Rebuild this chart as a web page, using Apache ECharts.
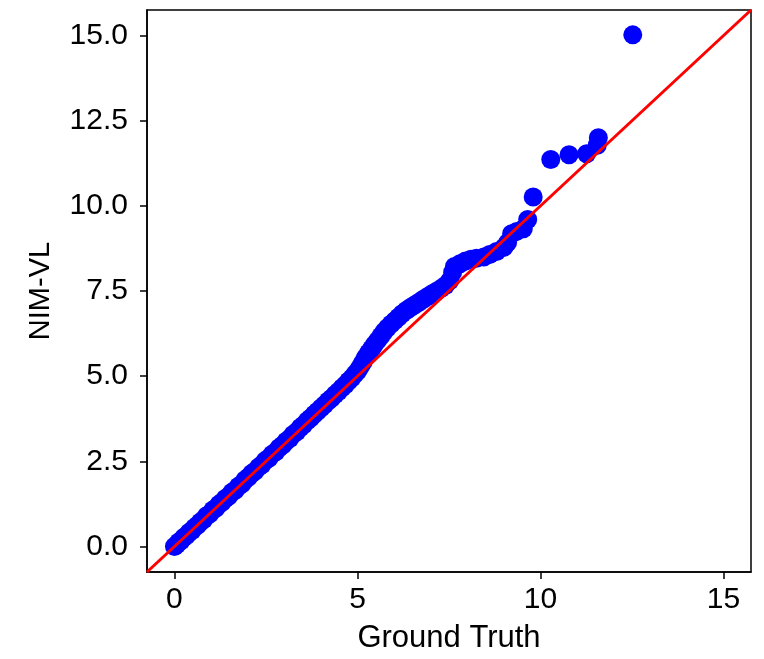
<!DOCTYPE html>
<html>
<head>
<meta charset="utf-8">
<script src="https://cdn.jsdelivr.net/npm/echarts@6/dist/echarts.min.js"></script>
<style>html,body{margin:0;padding:0;background:#fff}#c{width:764px;height:659px}</style>
</head>
<body>
<div id="c"></div>
<script>
const groundTruth = [0.00,0.06,0.12,0.18,0.25,0.32,0.40,0.48,0.55,0.63,0.71,0.80,0.88,0.96,1.05,1.13,1.22,1.30,1.39,1.48,1.57,1.66,1.75,1.84,1.93,2.02,2.11,2.20,2.30,2.39,2.48,2.58,2.67,2.77,2.86,2.96,3.05,3.15,3.24,3.34,3.44,3.53,3.63,3.72,3.82,3.91,4.01,4.10,4.20,4.29,4.39,4.48,4.58,4.67,4.76,4.85,4.93,5.01,5.08,5.15,5.22,5.30,5.38,5.46,5.55,5.64,5.73,5.82,5.92,6.02,6.12,6.22,6.33,6.44,6.56,6.68,6.80,6.92,7.04,7.16,7.28,7.40,7.52,7.60,7.65,7.80,7.95,8.10,8.25,8.45,8.61,8.80,9.00,9.10,9.21,9.35,9.53,9.65,9.80,10.28,10.78,11.26,11.55,11.58,12.52];
const nimVL = [0.00,0.05,0.13,0.17,0.26,0.31,0.41,0.47,0.56,0.62,0.72,0.79,0.90,0.95,1.07,1.12,1.24,1.30,1.41,1.47,1.59,1.65,1.77,1.83,1.96,2.03,2.14,2.21,2.33,2.40,2.52,2.59,2.71,2.78,2.90,2.98,3.09,3.17,3.29,3.37,3.49,3.57,3.69,3.77,3.88,3.97,4.07,4.16,4.27,4.35,4.46,4.55,4.66,4.75,4.86,4.95,5.06,5.16,5.28,5.41,5.55,5.68,5.80,5.92,6.05,6.18,6.31,6.42,6.53,6.63,6.73,6.83,6.93,7.01,7.09,7.17,7.26,7.34,7.42,7.49,7.57,7.66,7.80,8.05,8.22,8.30,8.38,8.43,8.46,8.50,8.57,8.66,8.78,8.92,9.18,9.25,9.33,9.60,10.26,11.36,11.50,11.53,11.78,12.00,15.02];
const xTicks = [0, 5, 10, 15];
const yTicks = [0, 2.5, 5, 7.5, 10, 12.5, 15];
const xName = 'Ground Truth';
const yName = 'NIM-VL';
const refLine = [[-0.75, -0.75], [15.75, 15.75]];

const points = groundTruth.map((g, i) => [g, nimVL[i]]);
const font = 'Liberation Sans';
const chart = echarts.init(document.getElementById('c'), null, {renderer: 'canvas'});
chart.setOption({
  animation: false,
  backgroundColor: '#fff',
  grid: {left: 147, right: 13, top: 10, bottom: 84, show: true, borderColor: '#000', borderWidth: 1.5, backgroundColor: 'transparent'},
  xAxis: {
    type: 'value', min: -0.75, max: 15.75,
    name: xName, nameLocation: 'middle', nameGap: 51,
    nameTextStyle: {fontFamily: font, fontSize: 31, color: '#000'},
    axisLine: {show: true, onZero: false, lineStyle: {color: '#000', width: 1.5}},
    axisTick: {show: true, inside: false, length: 7, customValues: xTicks, lineStyle: {color: '#000', width: 1.5}},
    axisLabel: {customValues: xTicks, margin: 13, fontFamily: font, fontSize: 30, color: '#000', formatter: v => String(v)},
    splitLine: {show: false}
  },
  yAxis: {
    type: 'value', min: -0.75, max: 15.75,
    name: yName, nameLocation: 'middle', nameGap: 92,
    nameTextStyle: {fontFamily: font, fontSize: 29, color: '#000'},
    axisLine: {show: true, onZero: false, lineStyle: {color: '#000', width: 1.5}},
    axisTick: {show: true, inside: false, length: 7, customValues: yTicks, lineStyle: {color: '#000', width: 1.5}},
    axisLabel: {customValues: yTicks, margin: 19, fontFamily: font, fontSize: 30, color: '#000', formatter: v => v.toFixed(1)},
    splitLine: {show: false}
  },
  series: [
    {type: 'scatter', data: points, symbol: 'circle', symbolSize: 19, itemStyle: {color: '#0000ff', opacity: 1}, z: 2},
    {type: 'line', data: refLine, symbol: 'none', lineStyle: {color: '#ff0000', width: 3}, z: 3, clip: true}
  ]
});
</script>
</body>
</html>
